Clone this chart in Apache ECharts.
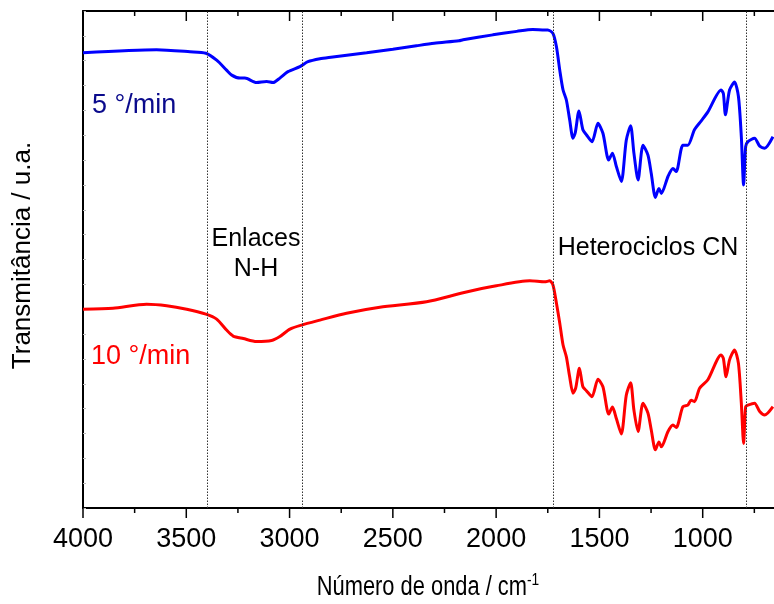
<!DOCTYPE html>
<html>
<head>
<meta charset="utf-8">
<script src="https://cdn.jsdelivr.net/npm/echarts@6/dist/echarts.min.js"></script>
<style>html,body{margin:0;padding:0;background:#fff}#c{width:774px;height:604px}</style>
</head>
<body>
<div id="c"></div>
<script>
// Wavenumbers (cm^-1) and transmittance (a.u.)
const wn5 = [4000,3644,3482,3405,3353,3305,3280,3240,3216,3160,3111,3080,3047,3008,2950,2911,2853,2800,2627,2500,2386,2300,2180,2160,2016,1900,1823,1765,1750,1725,1708,1692,1676,1660,1644,1628,1617,1599,1580,1563,1536,1507,1483,1455,1437,1418,1394,1370,1349,1333,1313,1289,1265,1249,1229,1212,1200,1168,1144,1128,1096,1072,1040,1007,975,911,900,890,870,846,827,813,802,792,781,749,724,700,660];
const t5 = [9.16,9.22,9.18,9.15,9.01,8.81,8.71,8.65,8.65,8.56,8.58,8.56,8.65,8.78,8.88,8.98,9.04,9.07,9.16,9.23,9.30,9.35,9.40,9.42,9.52,9.59,9.63,9.62,9.62,9.55,9.28,8.81,8.41,8.21,7.81,7.44,7.55,7.99,7.61,7.51,7.37,7.74,7.54,7.00,7.14,6.87,6.57,7.40,7.69,7.14,6.60,7.30,7.10,6.73,6.25,6.43,6.33,6.67,6.83,6.77,7.30,7.30,7.61,7.79,7.97,8.41,8.34,7.91,8.41,8.57,8.28,7.47,6.50,7.27,7.37,7.44,7.28,7.24,7.47];
const wn10 = [4000,3855,3692,3595,3498,3405,3353,3305,3273,3224,3160,3087,3047,2998,2942,2853,2724,2563,2337,2160,1999,1837,1765,1741,1725,1708,1692,1676,1660,1644,1628,1615,1597,1580,1563,1536,1507,1483,1455,1437,1418,1394,1370,1349,1333,1313,1289,1265,1249,1229,1212,1200,1168,1144,1128,1096,1072,1056,1040,1015,975,911,900,887,870,846,827,813,802,792,781,749,724,700,660];
const t10 = [4.00,4.02,4.10,4.07,4.00,3.90,3.80,3.58,3.46,3.41,3.35,3.37,3.45,3.60,3.68,3.78,3.92,4.04,4.15,4.33,4.47,4.57,4.55,4.57,4.49,4.12,3.72,3.28,3.04,2.64,2.31,2.41,2.81,2.44,2.36,2.24,2.59,2.44,1.89,2.03,1.80,1.49,2.27,2.52,1.97,1.54,2.11,1.91,1.57,1.17,1.33,1.23,1.54,1.67,1.62,2.04,2.07,2.17,2.14,2.41,2.58,3.08,3.01,2.64,2.98,3.18,2.91,2.11,1.30,2.04,2.07,2.11,1.94,1.87,2.04];
const markerWn = [3400, 2940, 1725, 790];
const majorTicks = [4000, 3500, 3000, 2500, 2000, 1500, 1000];
const minorTicks = [3750, 3250, 2750, 2250, 1750, 1250, 750];
const seriesNames = ['5 °/min', '10 °/min'];

const zip = (a, b) => a.map((x, i) => [x, b[i]]);
const font = 'Liberation Sans, Arial, sans-serif';
const Y_MIN = 0, Y_MAX = 10;
const MAJOR_LEN = 10, MINOR_LEN = 5;

// tick data: [wavenumber, kind] where kind 1 = major, 0 = minor
const tickData = majorTicks.map(v => [v, 1]).concat(minorTicks.map(v => [v, 0]));

const chart = echarts.init(document.getElementById('c'));

chart.setOption({
  animation: false,
  grid: {left: 83, top: 11, width: 692, height: 497, outerBoundsMode: 'none'},
  xAxis: [
    {
      type: 'value', min: 650, max: 4000, inverse: true, position: 'bottom',
      splitLine: {show: false},
      axisLine: {show: true, onZero: false, lineStyle: {color: '#000', width: 2}},
      axisTick: {show: false},
      minorTick: {show: false},
      axisLabel: {show: true, color: '#000', fontSize: 27, fontFamily: font, margin: 18,
        showMinLabel: false, formatter: v => String(v)}
    },
    {
      type: 'value', min: 650, max: 4000, inverse: true, position: 'top',
      splitLine: {show: false},
      axisLine: {show: true, onZero: false, lineStyle: {color: '#000', width: 2}},
      axisTick: {show: false},
      minorTick: {show: false},
      axisLabel: {show: false}
    }
  ],
  yAxis: {
    type: 'value', min: Y_MIN, max: Y_MAX, interval: 0.5,
    splitLine: {show: false},
    axisLine: {show: true, onZero: false, lineStyle: {color: '#000', width: 2}},
    axisTick: {show: true, inside: true, length: 3, lineStyle: {color: '#bbb', width: 1}},
    axisLabel: {show: false},
    name: 'Transmitância / u.a.', nameLocation: 'middle', nameGap: 47, nameRotate: 90,
    nameTextStyle: {color: '#000', fontSize: 26, fontFamily: font, padding: [0, 0, 0, 8]}
  },
  series: [
    {
      name: seriesNames[0], type: 'line', data: zip(wn5, t5), xAxisIndex: 0,
      showSymbol: false, smooth: 0.25, lineStyle: {color: '#0000ff', width: 3}, z: 3,
      markLine: {
        silent: true, symbol: ['none', 'none'], label: {show: false},
        lineStyle: {color: '#333', type: [1.5, 1.5], width: 1},
        data: markerWn.map(v => ({xAxis: v}))
      }
    },
    {
      name: seriesNames[1], type: 'line', data: zip(wn10, t10), xAxisIndex: 0,
      showSymbol: false, smooth: 0.25, lineStyle: {color: '#ff0000', width: 3}, z: 3
    },
    {
      name: 'axisTicks', type: 'custom', xAxisIndex: 0, data: tickData, clip: false,
      silent: true, z: 10,
      encode: {x: 0, y: 1},
      renderItem: function (params, api) {
        const x = api.value(0);
        const len = api.value(1) ? MAJOR_LEN : MINOR_LEN;
        const pTop = api.coord([x, Y_MAX]);
        const pBot = api.coord([x, Y_MIN]);
        const st = {stroke: '#000', lineWidth: 1.5};
        return {
          type: 'group',
          children: [
            {type: 'line', shape: {x1: pTop[0], y1: pTop[1], x2: pTop[0], y2: pTop[1] + len}, style: st},
            {type: 'line', shape: {x1: pBot[0], y1: pBot[1], x2: pBot[0], y2: pBot[1] + len}, style: st}
          ]
        };
      }
    }
  ],
  graphic: [
    {type: 'text', left: 92, top: 92, style: {text: seriesNames[0], fill: '#0a0a8c', font: '27px ' + font}},
    {type: 'text', left: 91, top: 343, style: {text: seriesNames[1], fill: '#ff0000', font: '27px ' + font}},
    {type: 'text', x: 256, y: 224, style: {text: 'Enlaces\nN-H', fill: '#000', font: '25px ' + font, align: 'center', lineHeight: 30}},
    {type: 'text', x: 648, y: 236, style: {text: 'Heterociclos CN', fill: '#000', font: '25px ' + font, align: 'center'}},
    {type: 'text', x: 428, y: 588, scaleX: 0.81, style: {
      text: 'Número de onda / cm{sup|-1}', fill: '#000', font: '27px ' + font,
      align: 'center', verticalAlign: 'middle',
      rich: {sup: {fontSize: 17, fontFamily: font, fill: '#000', padding: [0, 0, 16, 0]}}}}
  ]
});
</script>
</body>
</html>
